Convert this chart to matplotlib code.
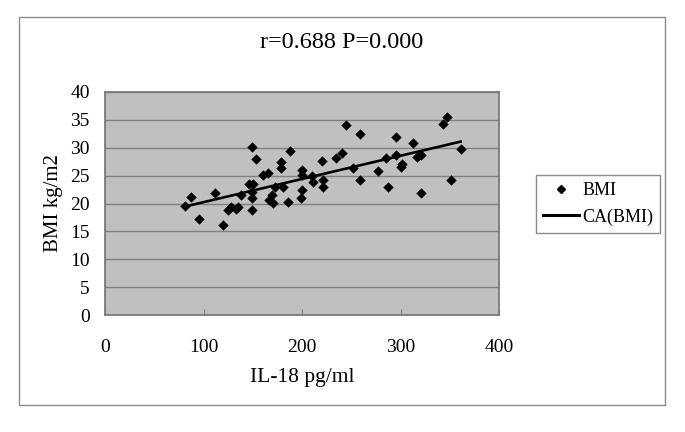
import matplotlib
matplotlib.use("Agg")
import matplotlib.pyplot as plt
from matplotlib.patches import Rectangle
from matplotlib.lines import Line2D

# Data
il18 = [81.6, 87, 95.2, 111.5, 120, 125, 128, 133, 135, 138,
        146, 150.5, 149.3, 149.3, 149.3, 149.3, 153,
        160.5, 165.6, 166.7, 169.4, 170.7, 173, 178.2, 178.2, 180.9, 185.4, 188.1,
        200.3, 199.7, 200.3, 198.6, 210.5, 211.6, 220, 221, 221,
        234.7, 240.5, 244.6, 251.7, 259.2, 258.5, 276.9, 285.7, 287.4,
        295.9, 295.6, 300, 301.7, 312.6, 316.9, 321, 320.7,
        343.2, 346.9, 351.4, 361.2]
bmi = [19.6, 21.1, 17.2, 21.8, 16.1, 18.9, 19.4, 19.1, 19.4, 21.6,
       23.5, 23.5, 22.0, 20.9, 18.9, 30.1, 27.9,
       25.1, 25.5, 20.6, 21.5, 20.1, 23.0, 27.5, 26.3, 23.0, 20.3, 29.4,
       26.0, 25.1, 22.5, 21.0, 25.0, 23.9, 27.6, 24.2, 23.0,
       28.1, 29.1, 34.0, 26.3, 32.5, 24.2, 25.9, 28.1, 23.0,
       32.0, 28.7, 26.6, 27.1, 30.8, 28.4, 28.7, 21.8,
       34.2, 35.5, 24.2, 29.8]
trend_x = [81, 361]
trend_y = [19.45, 31.1]
x_ticks = [0, 100, 200, 300, 400]
y_ticks = [0, 5, 10, 15, 20, 25, 30, 35, 40]
title_text = "r=0.688 P=0.000"
x_label = "IL-18 pg/ml"
y_label = "BMI kg/m2"
series_names = ["BMI", "CA(BMI)"]

FONT = ["Liberation Serif", "DejaVu Serif"]

W, H = 685, 432
fig = plt.figure(figsize=(W / 100, H / 100), dpi=100)
fig.patch.set_facecolor("white")

# outer chart frame
fig.add_artist(Rectangle((19 / W, 1 - 405 / H), (665 - 19) / W, (405 - 17) / H,
                         transform=fig.transFigure, fill=False,
                         edgecolor="#8c8c8c", linewidth=1.0))

ax = fig.add_axes([105 / W, 1 - 315 / H, (499 - 105) / W, (315 - 92) / H])
ax.set_facecolor("#c0c0c0")
ax.set_xlim(0, 400)
ax.set_ylim(0, 40)
ax.set_xticks(x_ticks)
ax.set_yticks(y_ticks)
ax.yaxis.grid(True, color="#808080", linewidth=1.0)
ax.set_axisbelow(True)
for s in ax.spines.values():
    s.set_color("#7a7a7a")
    s.set_linewidth(1.3)

ax.tick_params(axis="x", direction="in", length=4, color="#808080", pad=17,
               labelsize=14)
ax.tick_params(axis="y", length=0, pad=11, labelsize=14)
for lab in ax.get_xticklabels() + ax.get_yticklabels():
    lab.set_family(FONT)

ax.scatter(il18, bmi, marker="D", s=5.3 ** 2, color="black", zorder=3,
           linewidths=0)
ax.plot(trend_x, trend_y, color="black", linewidth=1.9, zorder=4)

ax.set_xlabel(x_label, family=FONT, fontsize=15.5, labelpad=9)
ax.set_ylabel(y_label, family=FONT, fontsize=15, labelpad=5)

fig.text(342 / W, 1 - 43 / H, title_text, family=FONT, fontsize=17.5,
         ha="center", va="center")

handles = [Line2D([], [], marker="D", linestyle="none", color="black",
                  markersize=4.5),
           Line2D([], [], color="black", linewidth=2.2)]
leg = fig.legend(handles, series_names, loc="upper left",
                 bbox_to_anchor=(536 / W, 1 - 175 / H),
                 prop={"family": FONT, "size": 13},
                 frameon=True, fancybox=False, framealpha=1,
                 edgecolor="#8c8c8c", borderpad=0.4, handlelength=2.0,
                 handletextpad=0.15, labelspacing=0.5, borderaxespad=0)
leg.get_frame().set_linewidth(1.0)

fig.savefig("out.png", dpi=100)
